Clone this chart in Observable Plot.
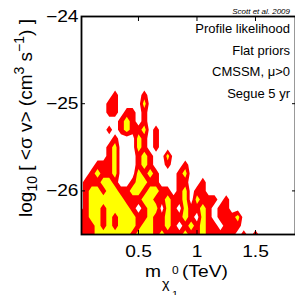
<!DOCTYPE html>
<html><head><meta charset="utf-8">
<script src="https://cdn.jsdelivr.net/npm/d3@7"></script>
<script src="https://cdn.jsdelivr.net/npm/@observablehq/plot@0.6"></script>
<style>
html,body{margin:0;padding:0;background:#fff;}
#chart{width:295px;height:295px;overflow:hidden;}
</style></head><body><div id="chart"></div>
<script>
// Grid of profile-likelihood confidence levels (0 = outside, 1 = 95% CL, 2 = 68% CL)
// columns: neutralino mass from 0 TeV in steps of 0.05 TeV
// rows: log10 <sigma v> from -24.9 (top) down to -26.5 (bottom) in steps of 0.1
const massStart = 0, massStep = 0.05;
const sigmaStart = -26.5, sigmaStep = 0.1;
const likelihoodRows = [
  "00000010000100000000000000000000", // -24.9
  "00000110000200000000000000000000", // -25.0
  "00000110110100000000000000000000", // -25.1
  "00000001210100000000000000000000", // -25.2
  "00000101211201000000000000000000", // -25.3
  "00000010002101000000000000000000", // -25.4
  "00000120002101000000000000000000", // -25.5
  "00000120001210020000000000000000", // -25.6
  "00011120001210010010000000000000", // -25.7
  "00121120002121000120000000000000", // -25.8
  "01112210012211000110010000000000", // -25.9
  "01221221122122110120110000000000", // -26.0
  "01222222111221121120211101000000", // -26.1
  "01221222210122021021121011000000", // -26.2
  "11221212221121121121021011120000", // -26.3
  "11121212221221121012121101110000", // -26.4
  "11122222212221211121121111101010"  // -26.5
];
const levelThresholds = [0.5, 1.5];
const levelColors = ["#ff0000", "#ffff00"];
const xTicks = [0.5, 1, 1.5];
const yTicks = [-26, -25, -24];
const xDomain = [0.013, 1.842];
const yDomain = [-26.5, -24];
const notes = ["Profile likelihood", "Flat priors", "CMSSM, \u03bc>0", "Segue 5 yr"];
const credit = "Scott et al. 2009";

const rowsBottomUp = likelihoodRows.slice().reverse();
const nx = rowsBottomUp[0].length, ny = rowsBottomUp.length;
const values = rowsBottomUp.flatMap(r => Array.from(r, Number));
const gx1 = massStart - massStep / 2, gx2 = gx1 + nx * massStep;
const gy1 = sigmaStart - sigmaStep / 2, gy2 = gy1 + ny * sigmaStep;
const grid = {width: nx, height: ny, x1: gx1, x2: gx2, y1: gy1, y2: gy2, clip: true, stroke: "none"};

const font = "'Liberation Sans', Arial, Helvetica, sans-serif";
const plot = Plot.plot({
  width: 295, height: 295,
  marginLeft: 81, marginTop: 16, marginBottom: 61, marginRight: 0,
  x: {domain: xDomain},
  y: {domain: yDomain},
  style: {fontFamily: font, color: "black", background: "white"},
  marks: [
    Plot.contour(values, {...grid, thresholds: [levelThresholds[0]], fill: levelColors[0]}),
    Plot.contour(values, {...grid, thresholds: [levelThresholds[1]], fill: levelColors[1]}),
    Plot.axisX(xTicks, {anchor: "bottom", tickSize: -4, tickFormat: () => "", label: null}),
    Plot.axisX(xTicks, {anchor: "top", tickSize: -4, tickFormat: () => "", label: null}),
    Plot.axisY(yTicks, {anchor: "left", tickSize: -4, tickFormat: () => "", label: null}),
    Plot.axisY(yTicks, {anchor: "right", tickSize: -4, tickFormat: () => "", label: null}),
    Plot.axisX(xTicks, {anchor: "bottom", tickSize: 0, tickPadding: 11, fontSize: 16, label: null, tickFormat: d => String(d)}),
    Plot.axisY(yTicks, {anchor: "left", tickSize: 0, tickPadding: 3, fontSize: 16, label: null, tickFormat: d => "\u2212" + Math.abs(d)}),
    Plot.frame({stroke: "black", strokeWidth: 1.8})
  ]
});
document.getElementById("chart").appendChild(plot);

const svg = d3.select(plot);
// the tick labels of the reference are drawn horizontally widened
svg.selectAll('g[aria-label="x-axis tick label"] text, g[aria-label="y-axis tick label"] text')
  .attr("transform", function () { return (this.getAttribute("transform") || "") + " scale(1.2,1)"; });

const g = svg.append("g").attr("font-family", font).attr("fill", "black").attr("text-anchor", "start");
// annotations
notes.forEach((t, i) => {
  g.append("text").attr("x", 290).attr("y", 33 + i * 21.7).attr("text-anchor", "end")
    .attr("font-size", 13).text(t);
});
g.append("text").attr("x", 290).attr("y", 13.5).attr("text-anchor", "end")
  .attr("font-size", 8).attr("font-style", "italic").text(credit);

// x label: m_{chi_1^0} (TeV), widened like the tick labels
const wide = (x, y, size, t) => g.append("text")
  .attr("transform", `translate(${x},${y}) scale(1.2,1)`).attr("font-size", size).text(t);
wide(145, 277, 16, "m");
wide(162, 288, 12, "\u03c7");
wide(172, 274, 10, "0");
wide(172, 297, 9, "1");
wide(182, 277, 16, "(TeV)");

// y label
const yl = g.append("text").attr("transform", "translate(32,118) rotate(-90)")
  .attr("text-anchor", "middle").attr("font-size", 19);
yl.append("tspan").text("log");
yl.append("tspan").attr("font-size", 14).attr("dy", 5).text("10");
yl.append("tspan").attr("dy", -5).text(" [ <\u03c3 v> (cm");
yl.append("tspan").attr("font-size", 14).attr("dy", -8).text("3");
yl.append("tspan").attr("dy", 8).text(" s");
yl.append("tspan").attr("font-size", 14).attr("dy", -8).text("\u22121");
yl.append("tspan").attr("dy", 8).text(") ]");
</script></body></html>
